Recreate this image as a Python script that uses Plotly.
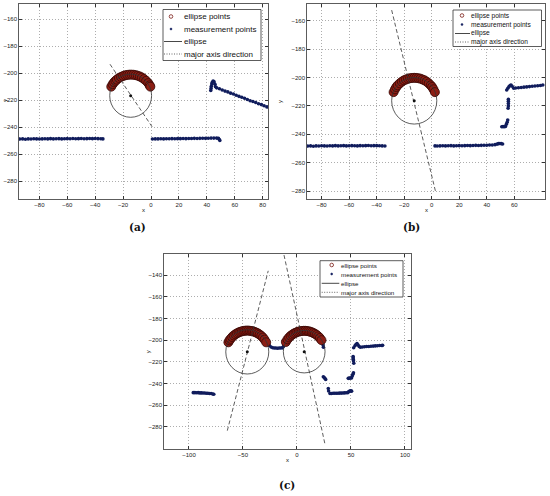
import plotly.graph_objects as go

W, H = 550, 496
def PX(p): return p / W
def PY(p): return 1 - p / H

# ---------------- data (a) ----------------
a_meas_x = [-94,-92,-90,-88,-86,-84,-82,-80,-78,-76,-74,-72,-70,-68,-66,-64,-62,-60,-58,-56,-54,-52,-50,-48,-46,-44,-42,-40,-38,-36,-34.5,
            1,3,5,7,9,11,13,15,17,19,21,23,25,27,29,31,33,35,37,39,41,43,45,47,48.3,48.9,49.3,
            42.8,43.0,43.2,43.5,43.9,44.5,45.2,45.8,46.2,
            47,49,51,53,55,57,59,61,63,65,67,69,71,73,75,77,79,81,83,
            -29.3,-29.0,0.0,-0.3]
a_meas_y = [-248.7,-248.6,-248.8,-248.6,-248.7,-248.5,-248.6,-248.7,-248.6,-248.5,-248.6,-248.4,-248.6,-248.5,-248.4,-248.6,-248.5,-248.4,-248.5,-248.3,-248.5,-248.4,-248.3,-248.5,-248.4,-248.3,-248.4,-248.3,-248.4,-248.5,-248.6,
            -248.7,-248.6,-248.6,-248.5,-248.6,-248.5,-248.5,-248.4,-248.5,-248.4,-248.4,-248.3,-248.4,-248.3,-248.3,-248.2,-248.3,-248.2,-248.1,-248.2,-248.1,-248.0,-248.0,-248.0,-248.2,-249.0,-249.8,
            -212.8,-211.2,-209.6,-208.0,-206.6,-205.8,-206.4,-208.2,-210.0,
            -210.8,-211.5,-212.4,-213.2,-213.8,-214.7,-215.4,-216.3,-217.1,-217.8,-218.5,-219.4,-220.3,-220.9,-221.6,-222.6,-223.2,-224.1,-224.9,
            -211.5,-210.3,-211.5,-210.3]
a_ell_x = [-28.5,-27.5,-26.5,-25.5,-24.5,-23,-21.5,-20,-18.5,-17,-15.5,-14,-12.5,-11,-9.5,-8,-6.5,-5,-3.5,-2,-1,-0.5]
a_ell_y = [-209.9,-208.1,-206.7,-205.6,-204.7,-203.5,-202.7,-202.0,-201.5,-201.2,-201.0,-201.0,-201.1,-201.4,-201.8,-202.4,-203.2,-204.3,-205.6,-207.3,-208.9,-209.9]
a_axis_x = [-29.4, 1.2]
a_axis_y = [-193.3, -240.3]
a_center = (-14.6, -216.6)
a_radii = (15.0, 16.0)

# ---------------- data (b) ----------------
b_meas_x = [-90,-88,-86,-84,-82,-80,-78,-76,-74,-72,-70,-68,-66,-64,-62,-60,-58,-56,-54,-52,-50,-48,-46,-44,-42,-40,-38,-36,-34,
            2.4,4,6,8,10,12,14,16,18,20,22,24,26,28,30,32,34,36,38,40,42,44,46,47.5,48.5,49.5,50.5,51.5,
            50.9,51.8,52.7,53.6,54.2,54.8,55.2,55.5,55.7,55.7,55.7,55.7,
            54.5,55.3,56.2,57.0,57.6,58.4,59.6,61,63,65,67,69,71,73,75,77,79,80.7,
            -28.6,-28.3,2.8,3.1]
b_meas_y = [-248.3,-248.2,-248.4,-248.2,-248.3,-248.1,-248.2,-248.3,-248.1,-248.2,-248.0,-248.2,-248.1,-248.0,-248.2,-248.1,-248.0,-248.1,-248.2,-248.0,-248.1,-248.0,-247.9,-248.1,-248.0,-248.0,-248.1,-248.2,-248.3,
            -248.2,-248.3,-248.2,-248.1,-248.2,-248.1,-248.0,-248.2,-248.1,-248.0,-248.1,-248.0,-247.9,-248.0,-247.9,-247.8,-247.9,-247.8,-247.7,-247.7,-247.6,-247.5,-247.3,-246.9,-246.6,-246.5,-246.6,-246.8,
            -234.7,-234.6,-234.7,-234.5,-233.0,-231.5,-230.0,-221.7,-220.0,-218.3,-216.8,-215.4,
            -208.8,-207.6,-206.3,-205.6,-205.3,-206.2,-207.6,-207.4,-207.2,-207.0,-206.8,-206.6,-206.4,-206.2,-206.0,-205.8,-205.6,-205.3,
            -212.0,-210.8,-212.0,-210.8]
b_ell_x = [-27.7,-26.7,-25.7,-24.7,-23.2,-21.7,-20.2,-18.7,-17.2,-15.7,-14.2,-12.7,-11.2,-9.7,-8.2,-6.7,-5.2,-3.7,-2.2,-0.7,0.3,1.3,2.3]
b_ell_y = [-210.3,-208.3,-206.7,-205.5,-204.1,-202.9,-202.0,-201.4,-200.8,-200.5,-200.3,-200.2,-200.3,-200.5,-200.8,-201.4,-202.0,-202.9,-204.1,-205.5,-206.7,-208.3,-210.3]
b_axis_x = [-29.1, 3.1]
b_axis_y = [-152.5, -281.6]
b_center = (-12.7, -216.4)
b_radii = (16.4, 16.4)

# ---------------- data (c) ----------------
c_meas_x = [-96,-94.5,-93,-91.5,-90,-88.5,-87,-85.5,-84,-82.5,-81,-79.5,-78,-77,
            -27,-25.5,-24,-22.5,-21,-19.5,-18,-16.5,-15,-13.5,-12.5,-12,-11,
            23.3,23.8,24.2,24.5,
            24.4,25.2,26.0,26.6,
            29.0,29.3,
            30.6,32,33.5,35,36.5,38,39.5,41,42.5,44,45.5,47,47.8,48.8,49.8,50.6,
            47.5,48.5,49.5,50.5,51.2,51.8,52.3,52.6,52.3,52.1,52.0,52.0,
            52.5,53.7,54.6,55.6,56.6,57.6,58.7,60.5,62.5,64.5,66.5,68.5,70.5,72.5,74.5,76.5,78.5,79.3,
            -64.5,-64.2,-28.2,-27.8]
c_meas_y = [-248.4,-248.4,-248.5,-248.4,-248.6,-248.6,-248.7,-248.7,-248.9,-249.0,-249.1,-249.2,-249.6,-249.9,
            -203.5,-205.0,-206.3,-207.0,-207.3,-207.3,-207.4,-207.2,-207.3,-207.1,-205.8,-204.2,-202.4,
            -200.5,-202.5,-204.5,-206.5,
            -233.7,-234.5,-235.4,-236.2,
            -244.6,-246.8,
            -249.2,-249.1,-249.0,-249.0,-248.9,-248.9,-248.8,-248.8,-248.7,-248.6,-248.5,-248.4,-247.6,-246.8,-246.7,-247.0,
            -235.2,-235.0,-234.9,-234.8,-233.0,-231.5,-230.0,-221.3,-219.0,-217.5,-216.2,-215.0,
            -207.0,-205.2,-204.0,-203.2,-204.5,-205.8,-206.6,-206.3,-206.1,-205.9,-205.8,-205.6,-205.5,-205.3,-205.2,-205.0,-204.9,-204.8,
            -204.5,-203.0,-204.0,-202.5]
c_ell_x = [-63.5,-62.5,-61.5,-60,-58.5,-57,-55.5,-54,-52.5,-51,-49.5,-48,-46.5,-45,-43.5,-42,-40.5,-39,-37.5,-36,-34.5,-33,-31.5,-30,-28.5,
           -10.3,-8.8,-7.3,-5.8,-4.3,-2.8,-1.3,0.2,1.7,3.2,4.7,6.2,7.7,9.2,10.7,12.2,13.7,15.2,16.7,18.2,19.7,21.2,22.7]
c_ell_y = [-202.0,-200.2,-198.8,-197.1,-195.7,-194.6,-193.7,-192.9,-192.3,-191.9,-191.5,-191.3,-191.2,-191.2,-191.4,-191.6,-192.0,-192.5,-193.1,-193.9,-194.9,-196.1,-197.6,-199.5,-202.0,
           -201.7,-199.3,-197.5,-196.0,-194.9,-193.9,-193.2,-192.5,-192.1,-191.7,-191.5,-191.4,-191.4,-191.6,-191.8,-192.2,-192.7,-193.4,-194.2,-195.2,-196.5,-198.0,-200.0]
c_axis1_x = [-64.5, -26.6]
c_axis1_y = [-283.4, -136.1]
c_axis2_x = [-12.0, 25.9]
c_axis2_y = [-121.6, -295.7]
c_centers = [(-46.0, -210.8), (6.7, -210.6)]
c_radii = [(19.9, 20.4), (19.3, 19.6)]

# tick values
a_xticks = [-80, -60, -40, -20, 0, 20, 40, 60, 80]
b_xticks = [-80, -60, -40, -20, 0, 20, 40, 60]
ab_yticks = [-160, -180, -200, -220, -240, -260, -280]
c_xticks = [-100, -50, 0, 50, 100]
c_yticks = [-140, -160, -180, -200, -220, -240, -260, -280]

legend_labels = ["ellipse points", "measurement points", "ellipse", "major axis direction"]

# ---------------- styling ----------------
MEAS = "#101c5c"
ELL_FILL = "#8c1e14"
ELL_EDGE = "#360805"
FONT = "Liberation Sans"

fig = go.Figure()

panels = [
    ("", (19, 268), (4, 199), (-94.6, 83.8), (-293.1, -148.7), a_xticks, ab_yticks),
    ("2", (307, 545), (4, 199), (-90.6, 82.3), (-285.6, -148.2), b_xticks, ab_yticks),
    ("3", (164, 410.7), (254.3, 449), (-123.1, 105.3), (-300.3, -120.9), c_xticks, c_yticks),
]

axis_common = dict(showgrid=True, gridcolor="#999999", griddash="1px,2px", gridwidth=0.8,
                   zeroline=False, showline=True, linecolor="#333333", linewidth=0.8,
                   mirror="ticks", ticks="inside", ticklen=3, tickcolor="#333333",
                   tickfont=dict(family=FONT, size=6, color="#222222"))

layout = dict(width=W, height=H, margin=dict(l=0, r=0, t=0, b=0),
              paper_bgcolor="white", plot_bgcolor="white", showlegend=False)
for name, xd, yd, xr, yr, xt, yt in panels:
    layout["xaxis" + name] = dict(domain=[PX(xd[0]), PX(xd[1])], range=list(xr),
                                  anchor="y" + name, tickvals=xt, **axis_common)
    layout["yaxis" + name] = dict(domain=[PY(yd[1]), PY(yd[0])], range=list(yr),
                                  anchor="x" + name, tickvals=yt, **axis_common)
fig.update_layout(**layout)

def add_panel(ax, mx, my, ex, ey, axes_lines, centers):
    xa, ya = "x" + ax, "y" + ax
    fig.add_trace(go.Scatter(x=mx, y=my, mode="markers", xaxis=xa, yaxis=ya,
                             marker=dict(size=3.6, color=MEAS)))
    fig.add_trace(go.Scatter(x=ex, y=ey, mode="markers", xaxis=xa, yaxis=ya,
                             marker=dict(size=9, color=ELL_FILL, line=dict(color=ELL_EDGE, width=0.8))))
    for lx, ly in axes_lines:
        fig.add_trace(go.Scatter(x=lx, y=ly, mode="lines", xaxis=xa, yaxis=ya,
                                 line=dict(color="#333333", width=0.8, dash="4px,2.5px")))
    fig.add_trace(go.Scatter(x=[c[0] for c in centers], y=[c[1] for c in centers], mode="markers",
                             xaxis=xa, yaxis=ya, marker=dict(size=3, color="#111111")))

add_panel("", a_meas_x, a_meas_y, a_ell_x, a_ell_y, [(a_axis_x, a_axis_y)], [a_center])
add_panel("2", b_meas_x, b_meas_y, b_ell_x, b_ell_y, [(b_axis_x, b_axis_y)], [b_center])
add_panel("3", c_meas_x, c_meas_y, c_ell_x, c_ell_y, [(c_axis1_x, c_axis1_y), (c_axis2_x, c_axis2_y)], c_centers)

shapes = []
def ellipse_shape(ax, c, r):
    return dict(type="circle", xref="x" + ax, yref="y" + ax,
                x0=c[0] - r[0], x1=c[0] + r[0], y0=c[1] - r[1], y1=c[1] + r[1],
                line=dict(color="#333333", width=0.8))
shapes.append(ellipse_shape("", a_center, a_radii))
shapes.append(ellipse_shape("2", b_center, b_radii))
for c, r in zip(c_centers, c_radii):
    shapes.append(ellipse_shape("3", c, r))

annotations = []
def legend_box(box, rows, mark_x, line_x, text_x, fsize):
    x0, x1, y0, y1 = box
    shapes.append(dict(type="rect", xref="paper", yref="paper", x0=PX(x0), x1=PX(x1), y0=PY(y1), y1=PY(y0),
                       line=dict(color="#333333", width=0.8), fillcolor="white", layer="above"))
    rr = 1.8
    shapes.append(dict(type="circle", xref="paper", yref="paper", x0=PX(mark_x - rr), x1=PX(mark_x + rr),
                       y0=PY(rows[0] + rr), y1=PY(rows[0] - rr), line=dict(color="#7a1a14", width=0.8), layer="above"))
    rr = 1.0
    shapes.append(dict(type="circle", xref="paper", yref="paper", x0=PX(mark_x - rr), x1=PX(mark_x + rr),
                       y0=PY(rows[1] + rr), y1=PY(rows[1] - rr), line=dict(color=MEAS, width=0.5),
                       fillcolor=MEAS, layer="above"))
    shapes.append(dict(type="line", xref="paper", yref="paper", x0=PX(line_x[0]), x1=PX(line_x[1]),
                       y0=PY(rows[2]), y1=PY(rows[2]), line=dict(color="#333333", width=0.9), layer="above"))
    shapes.append(dict(type="line", xref="paper", yref="paper", x0=PX(line_x[0]), x1=PX(line_x[1]),
                       y0=PY(rows[3]), y1=PY(rows[3]), line=dict(color="#555555", width=0.9, dash="1px,1.5px"), layer="above"))
    for lab, ry in zip(legend_labels, rows):
        annotations.append(dict(xref="paper", yref="paper", x=PX(text_x), y=PY(ry), text=lab, showarrow=False,
                                xanchor="left", yanchor="middle", borderpad=0,
                                font=dict(family=FONT, size=fsize, color="#111111")))

legend_box((163, 261, 9.5, 60.5), [16.5, 29, 41.5, 54], 171, (164, 182), 183, 8.0)
legend_box((453, 541.5, 10, 46.5), [15.5, 24.5, 33.5, 42], 462, (455, 470), 470, 6.6)
legend_box((320, 403, 260.7, 297), [265, 274, 283.3, 292.3], 331.7, (321.7, 339.3), 340, 6.2)

def text(x, y, s, size=6, angle=0, family=FONT, bold=False):
    annotations.append(dict(xref="paper", yref="paper", x=PX(x), y=PY(y), text=("<b>%s</b>" % s) if bold else s,
                            showarrow=False, xanchor="center", yanchor="middle", textangle=angle,
                            font=dict(family=family, size=size, color="#111111")))

# axis labels
text(143.5, 210, "x"); text(5, 101, "y", angle=-90)
text(426, 210, "x"); text(280, 101, "y", angle=-90)
text(287.3, 460, "x"); text(148.3, 352, "y", angle=-90)
# captions
text(137, 227, "(a)", size=10.5, family="DejaVu Serif", bold=True)
text(411, 227, "(b)", size=10.5, family="DejaVu Serif", bold=True)
text(286.5, 485, "(c)", size=10.5, family="DejaVu Serif", bold=True)

fig.update_layout(shapes=shapes, annotations=annotations)
fig.write_html("out.html", post_script="document.body.style.margin='0px';",
               config={"displayModeBar": False, "staticPlot": True})
